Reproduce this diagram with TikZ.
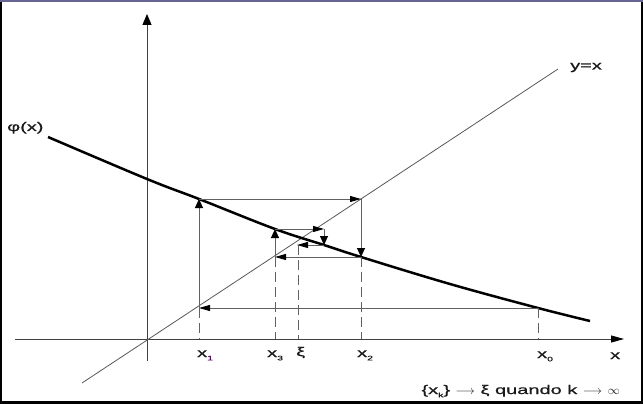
\documentclass[tikz,border=0pt]{standalone}
\usepackage{fontspec}
\setmainfont[FakeStretch=1.6,FakeBold=0.6]{Liberation Sans}
\usetikzlibrary{arrows.meta}
\newcommand\subidx[1]{\raisebox{-0.5ex}{\fontsize{6.5}{7}\selectfont #1}}
\begin{document}
\begin{tikzpicture}[x=1pt,y=-1pt,
  font=\fontsize{12.5}{14}\selectfont,
  axisline/.style={draw=black!75,line width=0.9pt},
  diagline/.style={draw=black!65,line width=0.8pt},
  fcurve/.style={draw=black,line width=2.5pt},
  web/.style={draw=black!62,line width=0.9pt},
  webdash/.style={web,dash pattern=on 10pt off 5pt},
  harrow/.style={-{Triangle[length=11pt,width=6pt,black]}},
  varrow/.style={-{Triangle[length=9pt,width=8pt,black]}},
  lbl/.style={anchor=base west,inner sep=0pt,text=black!90}]
\useasboundingbox (0,0) rectangle (643,404);
% frame
\fill[white] (0,0) rectangle (643,404);
\fill[black] (0,0) rectangle (2,404);
\fill[black] (641,0) rectangle (643,404);
\fill[black] (0,401) rectangle (643,404);
\fill[black!70!blue!60] (0,0) rectangle (643,2.5);
% axes
\coordinate (xl) at (15,339); \coordinate (xr) at (624,339);
\coordinate (yb) at (147,361); \coordinate (yt) at (147,14);
\draw[axisline,-{Triangle[length=13pt,width=7pt,black]}] (xl) -- (xr);
\draw[axisline,-{Triangle[length=11pt,width=9pt,black]}] (yb) -- (yt);
% y = x
\coordinate (d1) at (82,383); \coordinate (d2) at (558,69);
\draw[diagline] (d1) -- (d2);
% curve
\draw[fcurve] plot[smooth,tension=0.6] coordinates
  {(48,137) (147,179) (199,199) (275,229) (324,245) (361,257) (450,284) (538,308) (590,321)};
% cobweb points
\coordinate (P0) at (538,308);
\coordinate (Q1) at (199,308);
\coordinate (P1) at (199,199);
\coordinate (Q2) at (361,199);
\coordinate (P2) at (361,257);
\coordinate (Q3) at (275,257);
\coordinate (P3) at (275,229);
\coordinate (Q4) at (324,229);
\coordinate (P4) at (324,245);
\coordinate (Q5) at (297,245);
\coordinate (A0) at (538,339);
\coordinate (A1) at (199,339);
\coordinate (A2) at (361,339);
\coordinate (A3) at (275,339);
\coordinate (Xi) at (298,245);
\coordinate (AX) at (298,339);
\draw[web,harrow] (P0) -- (Q1);
\draw[web,varrow] (Q1) -- (P1);
\draw[web,harrow] (P1) -- (Q2);
\draw[web,varrow] (Q2) -- (P2);
\draw[web,harrow] (P2) -- (Q3);
\draw[web,varrow] (Q3) -- (P3);
\draw[web,harrow] (P3) -- (Q4);
\draw[web,varrow] (Q4) -- (P4);
\draw[web,harrow] (P4) -- (Q5);
% dashed drops
\draw[webdash] (P0) -- (A0);
\draw[webdash] (Q1) -- (A1);
\draw[webdash] (P2) -- (A2);
\draw[webdash] (Q3) -- (A3);
\draw[webdash] (Xi) -- (AX);
% labels
\node[lbl] (l1) at (197,357) {x\subidx{\color{violet!80!black}1}};
\node[lbl] (l3) at (267,357) {x\subidx{3}};
\node[lbl] (lxi) at (296,356) {ξ};
\node[lbl] (l2) at (357,357) {x\subidx{2}};
\node[lbl] (l0) at (537,358) {x\subidx{0}};
\node[lbl] (lx) at (610,359) {x};
\node[lbl] (lphi) at (7,131) {φ(x)};
\node[lbl] (lyx) at (570,69.5) {y=x};
\node[anchor=base east,inner sep=0pt,text=black!90] (conv) at (620,394)
  {\{x\subidx{k}\} $\longrightarrow$ ξ quando k $\longrightarrow$ $\infty$};
\end{tikzpicture}
\end{document}
